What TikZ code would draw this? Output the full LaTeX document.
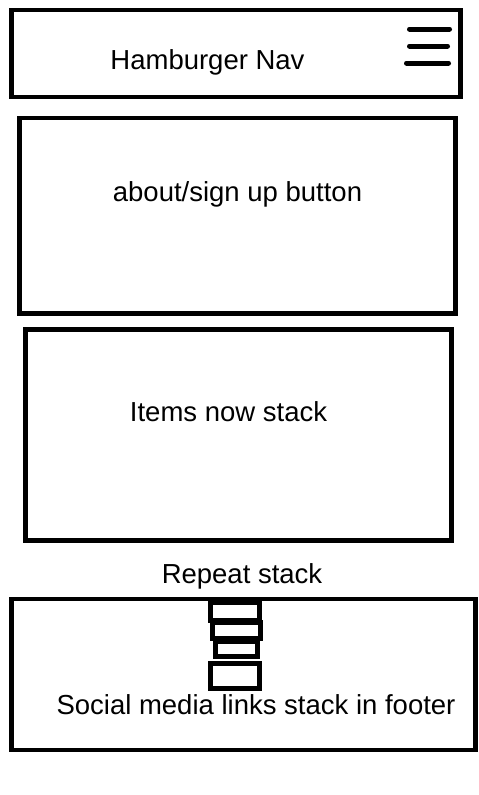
\documentclass[tikz,border=0pt]{standalone}
\usepackage{fontspec}
\setmainfont{Liberation Sans}
\usepackage{tikz}

\tikzset{panel/.style={draw, line width=4.5pt},
         navline/.style={line width=5pt, line cap=round},
         caption/.style={anchor=base, inner sep=0pt, font=\fontsize{27.5}{33}\selectfont}}

\begin{document}
\begin{tikzpicture}[x = 1pt, y = -1pt]

    \useasboundingbox (0,0) rectangle (479,795);

    % page blocks
    \draw[panel] (11.5,10) rectangle (460.5,97);
    \draw[panel] (19.5,118) rectangle (455.5,313.5);
    \draw[panel] (25.5,329.5) rectangle (451.5,540.5);
    \draw[panel] (11.5,599) rectangle (475.5,750);

    % hamburger icon
    \draw[navline] (409.5,29) -- (449.5,29);
    \draw[navline] (409.5,46) -- (447.5,46);
    \draw[navline] (406.5,63) -- (448.5,63);

    % stacked links
    \foreach \xa/\ya/\xb/\yb in {210.5/602/259.5/620, 212/622/260/638,
                                 215.5/641/257.5/656, 210.5/663/259.5/688}
        \draw[line width=5pt] (\xa,\ya) rectangle (\xb,\yb);

    \node[caption] (navtext)    at (207.5,69.3) {Hamburger Nav};
    \node[caption] (abouttext)  at (237.5,201.5) {about/sign up button};
    \node[caption] (itemstext)  at (228.5,421) {Items now stack};
    \node[caption] (repeattext) at (242,583.3) {Repeat stack};
    \node[caption] (footertext) at (256,714) {Social media links stack in footer};
\end{tikzpicture}
\end{document}
